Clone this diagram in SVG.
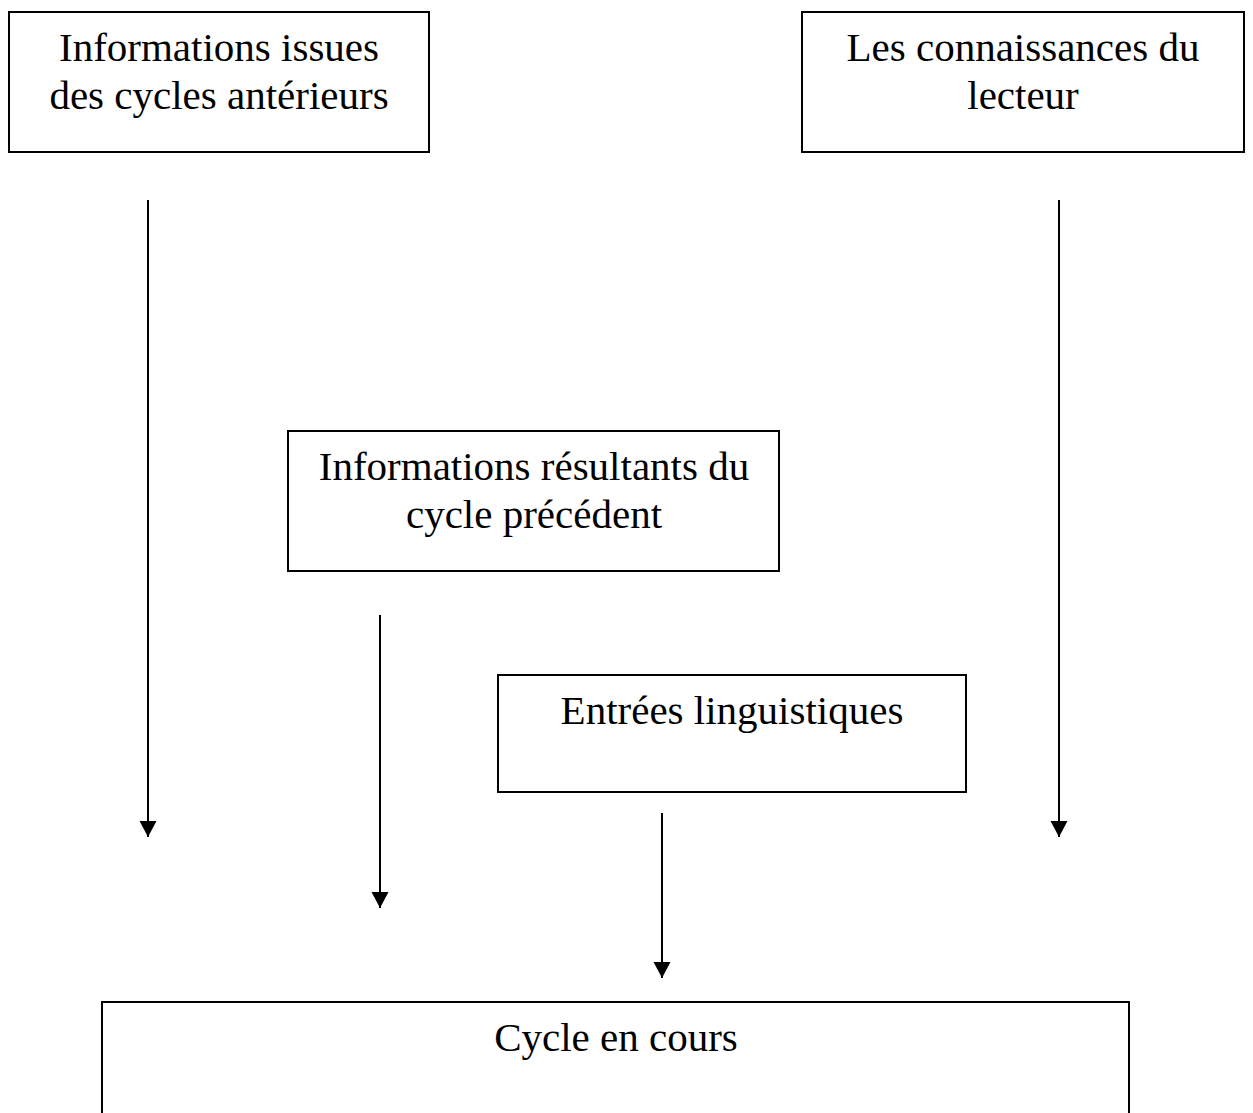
<svg xmlns="http://www.w3.org/2000/svg" width="1253" height="1113" viewBox="0 0 1253 1113">
<style>
.box{fill:#fff;stroke:#000;stroke-width:2}
.t{font-family:"Liberation Serif","Times New Roman",serif;font-size:41px;fill:#000;text-anchor:middle}
.c{stroke:#000;stroke-width:2;fill:none}
</style>
<defs>
<marker id="ah" markerUnits="userSpaceOnUse" markerWidth="18" markerHeight="18" refX="17" refY="9" orient="auto" viewBox="0 0 18 18">
<path d="M1,0.5 L17,9 L1,17.5 Z" fill="#000"/>
</marker>
</defs>
<rect width="1253" height="1113" fill="#fff"/>
<g id="n1">
<rect class="box" x="9" y="12" width="420" height="140"/>
<text class="t" x="219" y="61">Informations issues</text>
<text class="t" x="219" y="109">des cycles antérieurs</text>
</g>
<g id="n2">
<rect class="box" x="802" y="12" width="442" height="140"/>
<text class="t" x="1023" y="61">Les connaissances du</text>
<text class="t" x="1023" y="109">lecteur</text>
</g>
<g id="n3">
<rect class="box" x="288" y="431" width="491" height="140"/>
<text class="t" x="534" y="480">Informations résultants du</text>
<text class="t" x="534" y="528">cycle précédent</text>
</g>
<g id="n4">
<rect class="box" x="498" y="675" width="468" height="117"/>
<text class="t" x="732" y="724">Entrées linguistiques</text>
</g>
<g id="n5">
<rect class="box" x="102" y="1002" width="1027" height="150"/>
<text class="t" x="616" y="1051">Cycle en cours</text>
</g>
<g id="connectors">
<line class="c" x1="148" y1="200" x2="148" y2="837" marker-end="url(#ah)"/>
<line class="c" x1="380" y1="615" x2="380" y2="908" marker-end="url(#ah)"/>
<line class="c" x1="662" y1="813" x2="662" y2="978" marker-end="url(#ah)"/>
<line class="c" x1="1059" y1="200" x2="1059" y2="837" marker-end="url(#ah)"/>
</g>
</svg>
